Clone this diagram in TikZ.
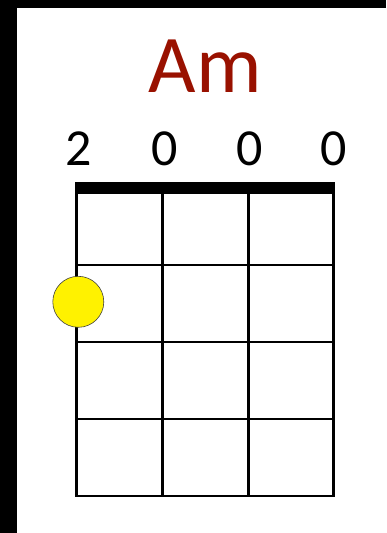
\documentclass[tikz,border=0pt]{standalone}
\usepackage{fontspec}
\setmainfont{Carlito}
\usetikzlibrary{positioning}
\definecolor{chordred}{RGB}{153,17,0}
\tikzset{
  fretline/.style={draw,line width=2.5pt},
  nutbar/.style={line width=12pt},
  fingerdot/.style={circle,draw=black!75,fill=yellow,minimum size=51pt,inner sep=0pt,line width=0.6pt},
  fretnum/.style={font=\fontsize{52}{52}\selectfont,anchor=base,inner sep=0pt},
  chordname/.style={font=\fontsize{82}{82}\selectfont,text=chordred,anchor=base,inner sep=0pt},
}
\begin{document}
\begin{tikzpicture}[x=1pt,y=-1pt]
\useasboundingbox (0,0) rectangle (386,533);
\fill[black] (0,0) rectangle (386,8);
\fill[black] (0,0) rectangle (16.5,533);

% strings
\foreach \s/\x in {1/76.5,2/162.6,3/248.7,4/333.3}{
  \coordinate (top\s) at (\x,188);
  \coordinate (bot\s) at (\x,496);
  \draw[fretline] (top\s) -- (bot\s);
}
% frets
\foreach \f/\y in {1/265,2/342,3/419,4/496}{
  \draw[fretline,line cap=rect] (76.5,\y) -- (333.3,\y);
}
\draw[nutbar] (75.3,188) -- (334.6,188);

\node[chordname] (name) at (205,92.7) {Am};
\node[fretnum] (n1) at (79,165.7) {2};
\node[fretnum] (n2) at (165,165.7) {0};
\node[fretnum] (n3) at (249.5,165.7) {0};
\node[fretnum] (n4) at (333.5,165.7) {0};

\node[fingerdot] (dot) at (78.3,301.8) {};
\end{tikzpicture}
\end{document}
